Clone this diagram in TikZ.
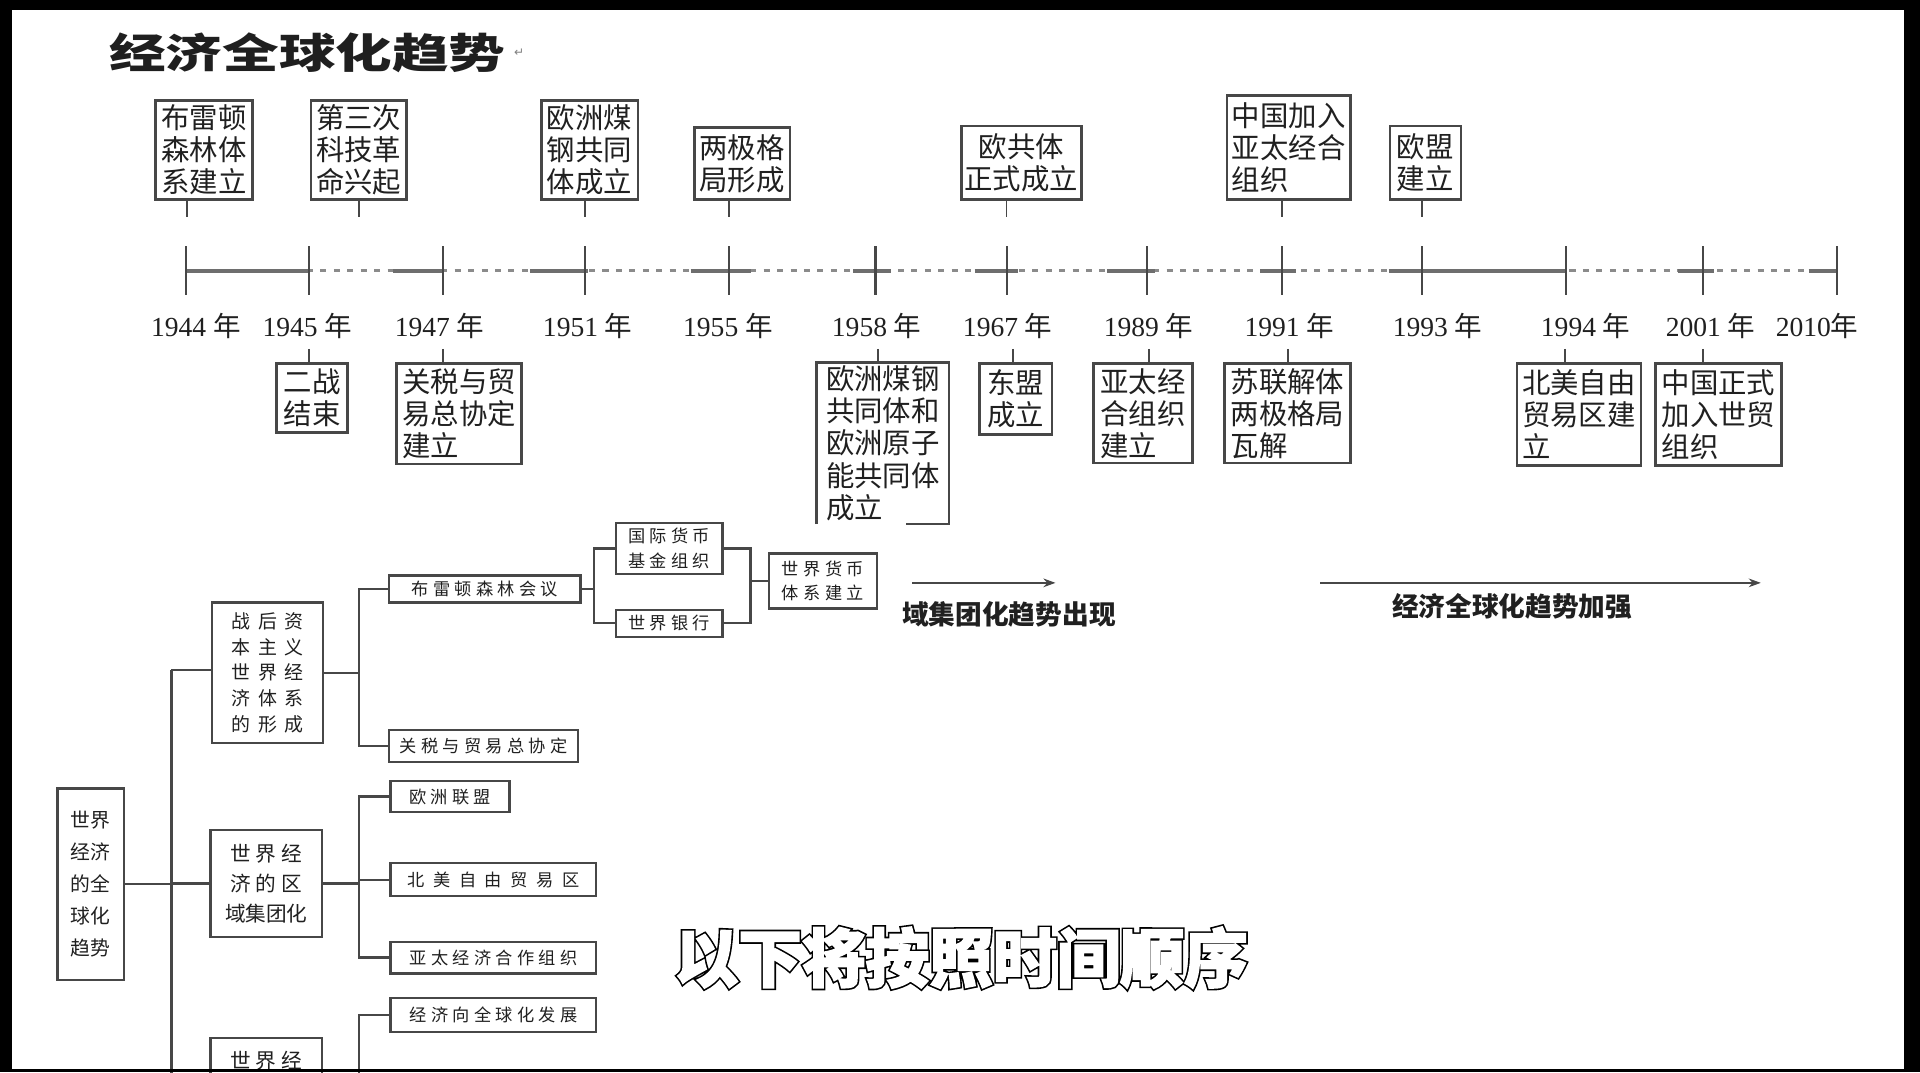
\documentclass[tikz,border=0pt]{standalone}
\usepackage{fontspec}
\setmainfont{Liberation Serif}
\newfontfamily\cjk{Noto Sans CJK SC}
\newfontfamily\cjkA[LetterSpace=40]{Noto Sans CJK SC}
\newfontfamily\cjkS[LetterSpace=25]{Noto Sans CJK SC}
\newfontfamily\cjkW[LetterSpace=50]{Noto Sans CJK SC}
\newfontfamily\subK[BoldFeatures={FakeBold=7.5}]{Noto Sans CJK SC}
\newfontfamily\subW[BoldFeatures={FakeBold=2.4}]{Noto Sans CJK SC}
\newfontfamily\symf{DejaVu Sans}
\usetikzlibrary{arrows.meta}
\newcommand\uL[1]{\fpeval{(#1)*0.025}cm}
\newcommand\mybox[7][]{\node[#2,#1,minimum width=\uL{#5-#3},minimum height=\uL{#6-#4}] (#7) at ({(#3+#5)/2},{(#4+#6)/2})}
\definecolor{ln}{HTML}{474747}
\definecolor{tx}{HTML}{202020}
\definecolor{ax}{HTML}{6E6E6E}
\tikzset{
 tbox/.style={draw=ln, line width=1.5pt, inner sep=0pt, text=tx, align=left, font=\cjk\fontsize{16.5}{18.6}\selectfont},
 abox/.style={draw=ln, line width=1.3pt, inner sep=0pt, text=tx, align=center, font=\cjkA\fontsize{11}{14.9}\selectfont},
 bbox/.style={draw=ln, line width=1.3pt, inner sep=0pt, text=tx, align=center, font=\cjkS\fontsize{12}{17.4}\selectfont},
 rbox/.style={draw=ln, line width=1.3pt, inner sep=0pt, text=tx, align=center, font=\cjk\fontsize{11.5}{18.6}\selectfont},
 sbox/.style={draw=ln, line width=1.3pt, inner sep=0pt, text=tx, align=center, font=\cjkS\fontsize{10}{14.2}\selectfont},
 conn/.style={draw=ln, line width=1.3pt},
 stub/.style={draw=ln, line width=1.1pt},
 yr/.style={text=tx, inner sep=0pt, font=\fontsize{16}{18}\selectfont},
 axsolid/.style={draw=ax, line width=2.2pt},
 axdot/.style={draw=ax!80, line width=1.8pt, dash pattern=on 3.5pt off 4.3pt},
 tick/.style={draw=ln, line width=1.2pt},
 trend/.style={draw=ln, line width=1.3pt, -{Stealth[length=7pt,width=5pt]}},
 lbl/.style={text=tx, inner sep=0pt, font=\cjk\bfseries\fontsize{15.5}{18}\selectfont},
}
\begin{document}
\begin{tikzpicture}[x=0.025cm,y=-0.025cm]
\useasboundingbox (0,0) rectangle (1568,875.5);
\clip (0,0) rectangle (1568,875.5);
\fill[white] (0,0) rectangle (1568,875.5);

% title
\node[font=\cjk\bfseries\fontsize{24}{24}\selectfont, xscale=1.37, text=black!88, inner sep=0pt] (title) at (251,43) {经济全球化趋势};
\node[font=\symf\fontsize{7}{7}\selectfont, text=gray, inner sep=0pt] (pm) at (424,43) {↵};

% axis
\coordinate (k1944) at (152,221);
\coordinate (k2010) at (1500,221);
\draw[axdot] (k1944) -- (k2010);
\foreach \a/\b in {152/252,321/363,433/480,564/613,697/728,796/831,904/943,1029/1058,1134/1279,1370/1400,1477/1500}
  \draw[axsolid] (\a,221) -- (\b,221);
\foreach \x/\yr/\lx in {152/1944/160,252/1945/251,362/1947/359,478/1951/480,595/1955/594.5,715/1958/716,822/1967/823,937/1989/938,1047/1991/1053,1161/1993/1174,1279/1994/1295,1391/2001/1397}{
  \draw[tick] (\x,201) -- (\x,241);
  \node[yr] (y\yr) at (\lx,266) {\yr\ {\cjk 年}};
}
\draw[tick] (1500,201) -- (1500,241);
\node[yr] (y2010) at (1484,266) {2010{\cjk 年}};

% top boxes
\mybox{tbox}{127}{82}{206}{163}{t1} {布雷顿\\森林体\\系建立};
\mybox{tbox}{254}{82}{332}{163}{t2} {第三次\\科技革\\命兴起};
\mybox{tbox}{442}{82}{521}{163}{t3} {欧洲煤\\钢共同\\体成立};
\mybox{tbox}{567}{104}{645}{163}{t4} {两极格\\局形成};
\mybox[align=center]{tbox}{785}{103}{883}{163}{t5} {欧共体\\正式成立};
\mybox{tbox}{1002}{78}{1103}{163}{t6} {中国加入\\亚太经合\\组织};
\mybox{tbox}{1135}{103}{1193}{163}{t7} {欧盟\\建立};
\path (153,177) coordinate (s1) (293,177) coordinate (s2) (478,177) coordinate (s3)
      (595,177) coordinate (s4) (822,177) coordinate (s5) (1047,177) coordinate (s6) (1161,177) coordinate (s7);
\foreach \i in {1,...,7} \draw[stub] (t\i.south -| s\i) -- (s\i);

% bottom boxes
\mybox{tbox}{226}{297}{284}{353}{q1} {二战\\结束};
\mybox{tbox}{324}{297}{426}{379}{q2} {关税与贸\\易总协定\\建立};
\mybox[draw=none]{tbox}{668}{297}{774}{427}{q3} {欧洲煤钢\\共同体和\\欧洲原子\\能共同体\\成立};
\draw[ln, line width=1.5pt] (q3.south west) -- (q3.north west) -- (q3.north east) -- (q3.south east) -- ([xshift=-\uL{35}]q3.south east);
\mybox{tbox}{800}{297}{859}{355}{q4} {东盟\\成立};
\mybox{tbox}{893}{297}{974}{378}{q5} {亚太经\\合组织\\建立};
\mybox{tbox}{1000}{297}{1103}{378}{q6} {苏联解体\\两极格局\\瓦解};
\mybox{tbox}{1239}{297}{1340}{380}{q7} {北美自由\\贸易区建\\立};
\mybox{tbox}{1352}{297}{1455}{380}{q8} {中国正式\\加入世贸\\组织};
\path (252,285) coordinate (u1) (362,285) coordinate (u2) (717,285) coordinate (u3) (827,285) coordinate (u4)
      (938,285) coordinate (u5) (1052,285) coordinate (u6) (1278,285) coordinate (u7) (1391,285) coordinate (u8);
\foreach \i in {1,...,8} \draw[stub] (u\i) -- (u\i |- q\i.north);

% tree
\mybox{rbox}{47}{644}{101}{800}{root} {世界\\经济\\的全\\球化\\趋势};
\mybox{abox}{173}{492}{264}{607}{A} {战后资\\本主义\\世界经\\济体系\\的形成};
\mybox{bbox}{172}{678}{263}{765}{B} {世界经\\济的区\\{\cjk 域集团化}};
\mybox{bbox}{172}{848}{263}{940}{C} {};
\node[font=\cjkS\fontsize{12}{14}\selectfont, text=tx, inner sep=0pt] (Ct) at (217.5,866) {世界经};
\mybox{sbox}{318}{470}{474}{492}{b1} {布雷顿森林会议};
\mybox{sbox}{318}{596}{472}{622}{b2} {关税与贸易总协定};
\mybox{sbox}{503}{427}{590}{469}{c1} {国际货币\\基金组织};
\mybox{sbox}{503}{498}{590}{520}{c2} {世界银行};
\mybox{sbox}{628}{452}{716}{497}{d} {世界货币\\体系建立};
\mybox{sbox}{319}{638}{416}{663}{e1} {欧洲联盟};
\mybox[font=\cjkW\fontsize{10}{14.2}\selectfont]{sbox}{319}{705}{487}{732}{e2} {北美自由贸易区};
\mybox{sbox}{319}{769}{487}{795}{e3} {亚太经济合作组织};
\mybox{sbox}{319}{815}{487}{843}{f1} {经济向全球化发展};

\coordinate (sp) at (140,547);
\coordinate (spb) at (140,880);
\coordinate (ja) at (293,549);
\coordinate (jb) at (485,481);
\coordinate (jc) at (613,476);
\draw[conn] (sp) -- (spb);
\draw[conn] (root.east) -- (root.east -| sp);
\draw[conn] (sp) -- (sp -| A.west);
\draw[conn] (B.west) -- (B.west -| sp);
\draw[conn] (A.east) -- (A.east -| ja);
\draw[conn] (b1.west) -- (b1.west -| ja) -- (b2.west -| ja) -- (b2.west);
\draw[conn] (b1.east) -- (b1.east -| jb);
\draw[conn] (c1.west) -- (c1.west -| jb) -- (c2.west -| jb) -- (c2.west);
\draw[conn] (c1.east) -- (c1.east -| jc) -- (c2.east -| jc) -- (c2.east);
\draw[conn] (d.west) -- (d.west -| jc);
\draw[conn] (B.east) -- (B.east -| ja);
\draw[conn] (e1.west) -- (e1.west -| ja) -- (e3.west -| ja) -- (e3.west);
\draw[conn] (e2.west) -- (e2.west -| ja);
\draw[conn] (f1.west) -- (f1.west -| ja) -- (ja |- spb);

% trend arrows
\coordinate (a1s) at (745,476); \coordinate (a1e) at (862,476);
\coordinate (a2s) at (1078,476); \coordinate (a2e) at (1438,476);
\draw[trend] (a1s) -- (a1e);
\draw[trend] (a2s) -- (a2e);
\node[lbl] (l1) at (824,502) {域集团化趋势出现};
\node[lbl] (l2) at (1235,495) {经济全球化趋势加强};

% subtitle (white text with black outline)
\node[inner sep=0pt] (sub) at (785,782)
  {\rlap{\color{black}\subK\bfseries\fontsize{37}{37}\selectfont 以下将按照时间顺序}{\color{white}\subW\bfseries\fontsize{37}{37}\selectfont 以下将按照时间顺序}};

% black frame
\fill[black] (0,0) rectangle (1568,8);
\fill[black] (0,0) rectangle (10,875.5);
\fill[black] (1555,0) rectangle (1568,875.5);
\fill[black] (0,873) rectangle (1568,875.5);
\end{tikzpicture}
\end{document}
